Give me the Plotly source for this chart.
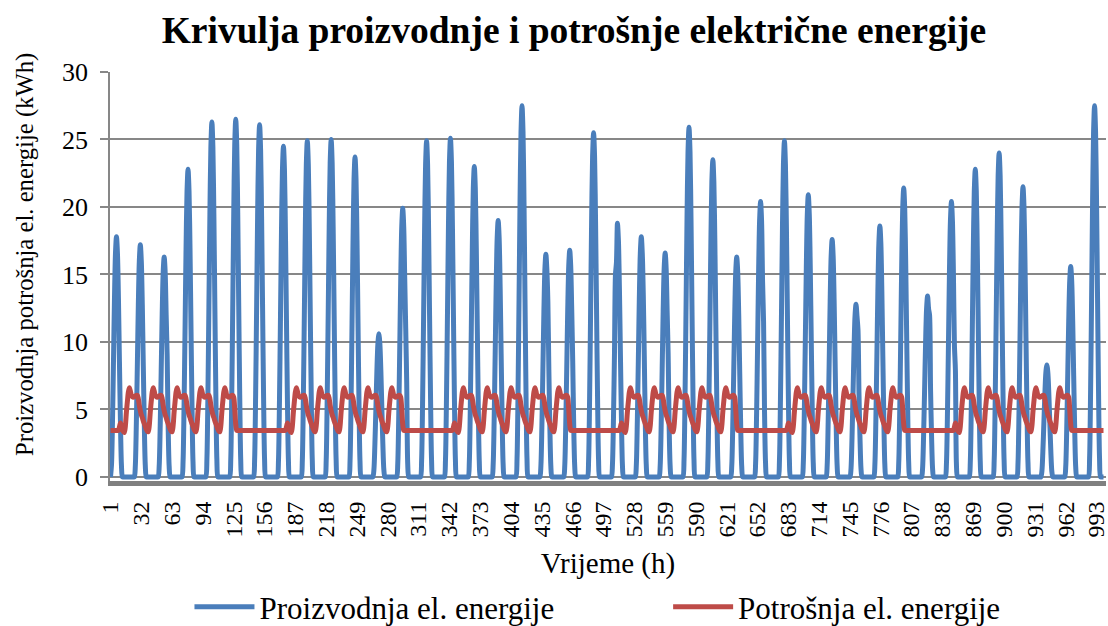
import plotly.graph_objects as go

# ---------------- data ----------------
n_hours = 1000  # hourly samples on the category axis

# daily maximum of the production curve (kWh), one value per day
daily_peak_kwh = [17.8, 17.2, 16.3, 22.8, 26.3, 26.5, 26.1, 24.5, 24.9, 25.0,
                  23.7, 10.6, 19.9, 24.9, 25.1, 23.0, 19.0, 27.5, 16.5, 16.8,
                  25.5, 18.8, 17.8, 16.6, 25.9, 23.5, 16.3, 20.4, 24.9, 20.9,
                  17.6, 12.8, 18.6, 21.4, 13.4, 20.4, 22.8, 24.0, 21.5, 8.3,
                  15.6, 27.5]

# share of the daily maximum for each hour of a production day
solar_hour_share = [0.0, 0.05, 0.23, 0.48, 0.74, 0.93, 1.0, 0.93, 0.74, 0.48, 0.23, 0.05,
                    0.0, 0.0, 0.0, 0.0, 0.0, 0.0, 0.0, 0.0, 0.0, 0.0, 0.0, 0.0]

# visible shoulders on some production days: (day, hour of day, kWh)
production_shoulders = [(2, 8, 12.0), (2, 9, 9.0), (12, 9, 11.0), (12, 10, 7.0),
                        (18, 8, 13.0), (19, 9, 8.6), (21, 4, 15.0), (21, 5, 15.9),
                        (22, 8, 13.5), (22, 9, 9.0), (23, 9, 9.1), (27, 8, 14.5),
                        (27, 9, 11.5), (31, 8, 10.9), (34, 8, 12.0), (35, 10, 7.9)]

# consumption (kWh); a consumption day starts at hour 9 of the series
load_day_offset = 9
week_pattern = ["W", "W", "W", "W", "W", "E", "E"]
load_weekend = 3.45
load_morning_after_weekday = [4.4, 4.15, 3.95, 3.75, 3.55, 3.4, 3.35]
load_morning_after_weekend = [3.45, 3.7, 4.0, 3.75, 3.5, 3.35, 3.3]
load_day_core = [3.8, 4.8, 5.6, 6.3, 6.6, 6.35, 6.05, 5.95, 5.9, 5.95, 6.0, 6.05, 6.05]
load_evening_before_weekday = [5.8, 5.3, 4.9, 4.6]
load_evening_before_weekend = [5.9, 5.0, 3.9, 3.45]

x_tick_labels = ["1", "32", "63", "94", "125", "156", "187", "218", "249", "280",
                 "311", "342", "373", "404", "435", "466", "497", "528", "559", "590",
                 "621", "652", "683", "714", "745", "776", "807", "838", "869", "900",
                 "931", "962", "993"]
y_tick_values = [0, 5, 10, 15, 20, 25, 30]

title_text = "Krivulja proizvodnje i potrošnje električne energije"
y_title = "Proizvodnja potrošnja el. energije (kWh)"
x_title = "Vrijeme (h)"
name_prod = "Proizvodnja el. energije"
name_load = "Potrošnja el. energije"

# ---------------- build hourly series ----------------
hours = list(range(1, n_hours + 1))

production = []
for h in hours:
    d, k = divmod(h - 1, 24)
    production.append(daily_peak_kwh[d] * solar_hour_share[k])
for d, k, v in production_shoulders:
    idx = d * 24 + k
    if idx < n_hours:
        production[idx] = v


def day_type(D):
    return week_pattern[D % 7]


consumption = []
for h in hours:
    D, c = divmod(h - load_day_offset, 24)
    if day_type(D) == "E":
        consumption.append(load_weekend)
        continue
    if c < 7:
        src = load_morning_after_weekday if day_type(D - 1) == "W" else load_morning_after_weekend
        consumption.append(src[c])
    elif c < 20:
        consumption.append(load_day_core[c - 7])
    else:
        src = load_evening_before_weekday if day_type(D + 1) == "W" else load_evening_before_weekend
        consumption.append(src[c - 20])

# ---------------- figure ----------------
FONT = '"Liberation Serif", "Times New Roman", Times, serif'
GRID = "#878787"
BLACK = "#000000"

fig = go.Figure()
fig.add_trace(go.Scatter(x=hours, y=production, mode="lines", name=name_prod,
                         line=dict(color="#4A7EBB", width=5, shape="spline", smoothing=0.8),
                         legend="legend"))
fig.add_trace(go.Scatter(x=hours, y=consumption, mode="lines", name=name_load,
                         line=dict(color="#BE4B48", width=5, shape="spline", smoothing=0.8),
                         legend="legend2"))

legend_common = dict(orientation="h", xref="container", yref="container",
                     xanchor="left", y=0.03, yanchor="middle",
                     font=dict(size=31, family=FONT, color=BLACK),
                     itemwidth=60, bgcolor="rgba(0,0,0,0)")

fig.update_layout(
    width=1108, height=626,
    margin=dict(l=110, r=2, t=72, b=145, autoexpand=False),
    paper_bgcolor="white", plot_bgcolor="white",
    font=dict(family=FONT, color=BLACK),
    title=dict(text="<b>" + title_text + "</b>", font=dict(size=37.5, family=FONT, color=BLACK),
               x=0.518, xanchor="center", xref="container",
               y=0.953, yanchor="middle", yref="container"),
    showlegend=True,
    legend=dict(x=0.171, **legend_common),
    legend2=dict(x=0.603, **legend_common),
    annotations=[dict(text=y_title, textangle=-90, showarrow=False,
                      xref="paper", yref="paper",
                      x=-0.0853, xanchor="center", y=0.5526, yanchor="middle",
                      font=dict(size=24.7, family=FONT, color=BLACK))],
)
fig.update_xaxes(
    automargin=False,
    range=[0.5, n_hours + 2.5],
    tickmode="array",
    tickvals=[int(t) for t in x_tick_labels],
    ticktext=x_tick_labels,
    tickangle=-90,
    tickfont=dict(size=24, family=FONT, color=BLACK),
    ticklabeloverflow="allow",
    showgrid=False, zeroline=False,
    showline=True, linecolor="#808080", linewidth=5,
    ticks="", ticklabelstandoff=6,
    title=dict(text=x_title, font=dict(size=29, family=FONT, color=BLACK), standoff=18),
)
fig.update_yaxes(
    automargin=False,
    range=[-0.3, 30],
    tickmode="array", tickvals=y_tick_values,
    tickfont=dict(size=26, family=FONT, color=BLACK),
    showgrid=True, gridcolor=GRID, gridwidth=1.5,
    zeroline=False,
    showline=True, linecolor=GRID, linewidth=1.5,
    ticks="outside", ticklen=8, tickcolor=GRID, tickwidth=1.5,
    ticklabelstandoff=7,
)

# the page's default 8px body margin would shift the fixed-size figure
fig.write_html("out.html", config={"displayModeBar": False},
               post_script="document.body.style.margin='0px';")
